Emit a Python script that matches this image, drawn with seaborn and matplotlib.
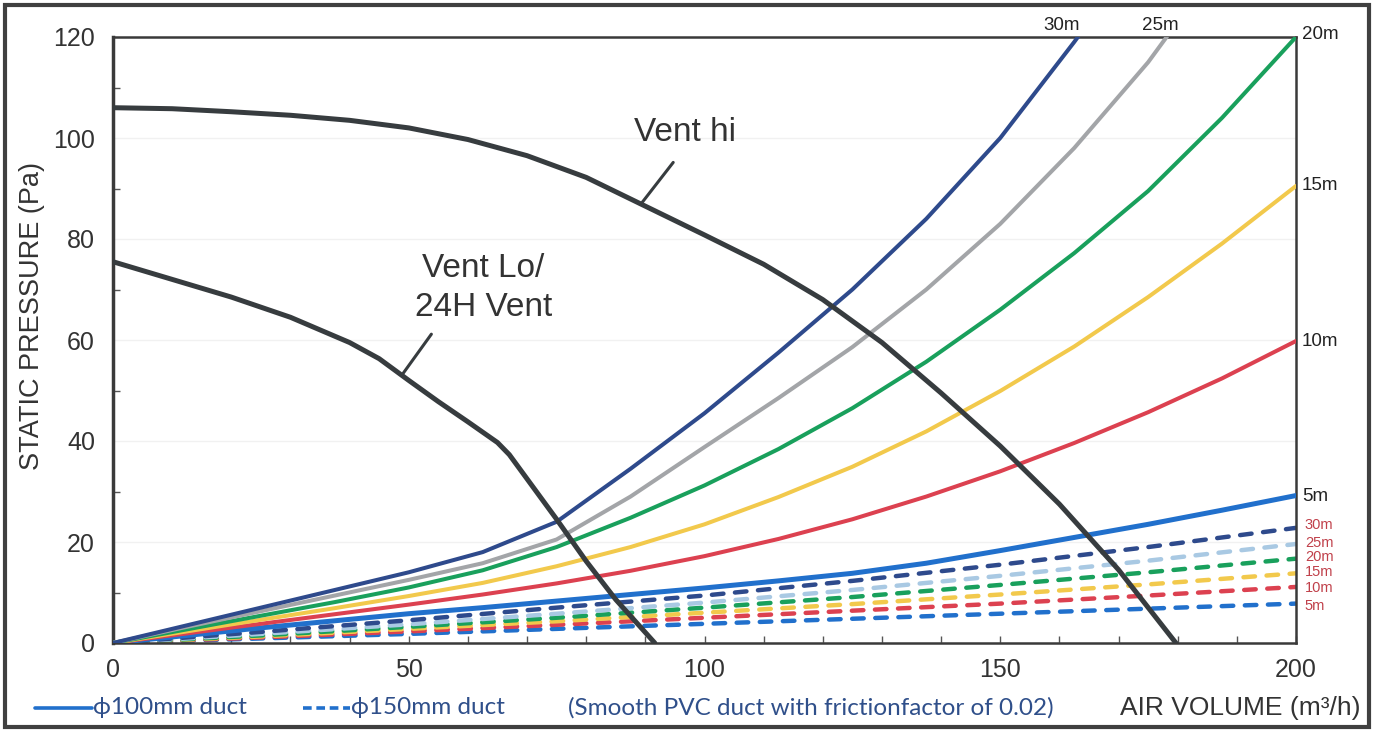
import matplotlib.pyplot as plt
import seaborn as sns
from matplotlib.lines import Line2D
from matplotlib.patches import Rectangle

# air volume (m3/h) sample points
vol = [0, 12.5, 25, 37.5, 50, 62.5, 75, 87.5, 100, 112.5, 125, 137.5, 150, 162.5, 175, 187.5, 200]
vol_25m = [0, 12.5, 25, 37.5, 50, 62.5, 75, 87.5, 100, 112.5, 125, 137.5, 150, 162.5, 175, 180]
vol_30m = [0, 12.5, 25, 37.5, 50, 62.5, 75, 87.5, 100, 112.5, 125, 137.5, 150, 162.5, 165]

# phi100mm duct, static pressure (Pa)
p100_5m = [0, 1.5, 3.0, 4.4, 5.8, 7.0, 8.3, 9.6, 10.9, 12.3, 13.8, 15.8, 18.3, 20.9, 23.5, 26.3, 29.2]
p100_10m = [0, 1.9, 3.8, 5.7, 7.6, 9.6, 11.8, 14.3, 17.2, 20.6, 24.5, 29.0, 34.0, 39.6, 45.7, 52.4, 59.8]
p100_15m = [0, 2.3, 4.6, 6.9, 9.3, 11.9, 15.2, 19.0, 23.5, 28.9, 34.9, 41.9, 49.9, 58.7, 68.5, 79.1, 90.5]
p100_20m = [0, 2.7, 5.4, 8.1, 11.0, 14.4, 19.0, 24.8, 31.2, 38.4, 46.5, 55.7, 66.0, 77.2, 89.5, 104.0, 120]
p100_25m = [0, 3.2, 6.3, 9.4, 12.5, 15.8, 20.5, 29.0, 38.8, 48.5, 58.6, 70.0, 83.0, 98.0, 115.0, 123.0]
p100_30m = [0, 3.5, 7.0, 10.5, 14.0, 18.0, 24.0, 34.5, 45.5, 57.5, 70.0, 84.0, 100.0, 119.0, 123.0]

# phi150mm duct
vol150 = [0, 25, 50, 75, 100, 125, 150, 175, 200]
p150_5m = [0, 0.9, 1.8, 2.8, 3.8, 4.8, 5.8, 6.8, 7.8]
p150_10m = [0, 1.1, 2.3, 3.6, 5.0, 6.4, 7.8, 9.4, 11.1]
p150_15m = [0, 1.3, 2.8, 4.3, 6.0, 7.7, 9.6, 11.6, 13.8]
p150_20m = [0, 1.5, 3.2, 5.0, 7.0, 9.1, 11.5, 14.0, 16.7]
p150_25m = [0, 1.8, 3.7, 5.8, 8.0, 10.5, 13.3, 16.3, 19.6]
p150_30m = [0, 2.2, 4.5, 7.0, 9.4, 12.3, 15.5, 19.0, 22.8]

# fan curves
vent_hi_x = [0, 10, 20, 30, 40, 50, 60, 70, 80, 90, 100, 110, 120, 130, 140, 150, 160, 170, 179.7]
vent_hi_y = [106, 105.8, 105.2, 104.5, 103.5, 102, 99.7, 96.5, 92.2, 86.5, 80.8, 75, 68, 59.5, 49.5, 39, 27.5, 14.5, 0]
vent_lo_x = [0, 10, 20, 30, 40, 45, 50, 55, 60, 65, 67, 70, 75, 80, 85, 91.6]
vent_lo_y = [75.5, 72, 68.5, 64.5, 59.5, 56.3, 52, 47.8, 43.8, 39.7, 37.3, 32.5, 24.5, 16.2, 8.6, 0]

lengths = ['5m', '10m', '15m', '20m', '25m', '30m']
c_navy = '#2e4a8c'
c_grey = '#a3a5a8'
c_green = '#19a05c'
c_yellow = '#f2c94c'
c_red = '#dc4150'
c_blue = '#2170cc'
c_lightblue = '#a9c9e3'
c_vent = '#373c3f'
c_text = '#333333'
c_legend = '#2f4f8a'

sns.set_theme(style="white")
plt.rcParams['font.family'] = ['Liberation Sans', 'DejaVu Sans']

fig = plt.figure(figsize=(13.76, 7.32), dpi=100)
ax = fig.add_axes([113 / 1376, 1 - 643 / 732, 1183 / 1376, 606 / 732])

ax.yaxis.grid(True, color='#f1f1f1', lw=1)

dashed = [p150_5m, p150_10m, p150_15m, p150_20m, p150_25m, p150_30m]
dashed_cols = [c_blue, c_red, c_yellow, c_green, c_lightblue, c_navy]
for ys, col in zip(dashed, dashed_cols):
    sns.lineplot(x=vol150, y=ys, ax=ax, color=col, lw=3.2, linestyle=(0, (2.6, 2.6)),
                 dash_capstyle='round', zorder=2)

solid = [
    (vol, p100_5m, c_blue, 3.6), (vol, p100_10m, c_red, 2.9), (vol, p100_15m, c_yellow, 2.9),
    (vol, p100_20m, c_green, 2.9), (vol_25m, p100_25m, c_grey, 2.9), (vol_30m, p100_30m, c_navy, 2.9),
]
for xs, ys, col, w in solid:
    sns.lineplot(x=xs, y=ys, ax=ax, color=col, lw=w, zorder=3)

sns.lineplot(x=vent_hi_x, y=vent_hi_y, ax=ax, color=c_vent, lw=3.6, zorder=4)
sns.lineplot(x=vent_lo_x, y=vent_lo_y, ax=ax, color=c_vent, lw=3.6, zorder=4)

ax.set_xlim(0, 200)
ax.set_ylim(0, 120)
ax.set_xticks([0, 50, 100, 150, 200])
ax.set_xticks(range(0, 201, 10), minor=True)
ax.set_yticks(range(0, 121, 20))
ax.set_yticks(range(0, 121, 10), minor=True)
ax.tick_params(axis='x', which='both', direction='in', length=5, width=1, color='#555555',
               bottom=True, labelsize=18, labelcolor=c_text, pad=11)
ax.tick_params(axis='y', which='major', length=0, left=True, labelsize=18, labelcolor=c_text, pad=13)
ax.tick_params(axis='y', which='minor', direction='in', length=5, width=1, color='#555555', left=True)
for s in ax.spines.values():
    s.set_color('#3a3a3a')
    s.set_linewidth(1.8)
ax.spines['left'].set_linewidth(2.5)

# fan curve labels
ax.text(96.7, 101, 'Vent hi', ha='center', va='center', fontsize=24, color=c_text)
ax.text(62.6, 70.3, 'Vent Lo/\n24H Vent', ha='center', va='center', fontsize=24,
        color=c_text, linespacing=1.3)
ax.annotate('', xy=(89.1, 86.7), xytext=(95, 95.6),
            arrowprops=dict(arrowstyle='-', color=c_vent, lw=2.2))
ax.annotate('', xy=(48.5, 52.5), xytext=(54.1, 61.6),
            arrowprops=dict(arrowstyle='-', color=c_vent, lw=2.2))

# duct length labels
ax.text(160.4, 120.6, '30m', ha='center', va='bottom', fontsize=13.5, color='#222222', clip_on=False)
ax.text(177, 120.6, '25m', ha='center', va='bottom', fontsize=13.5, color='#222222', clip_on=False)
right_y = [29.1, 59.8, 90.5, 120.4]
for lab, yy in zip(lengths[:4], right_y):
    ax.text(201, yy, lab, ha='left', va='center', fontsize=13.5, color='#222222', clip_on=False)
red_y = [7.3, 10.9, 14.1, 17.0, 19.8, 23.4]
for lab, yy in zip(lengths, red_y):
    ax.text(201.5, yy, lab, ha='left', va='center', fontsize=10.5, color='#c0404a', clip_on=False)

fig.text(32 / 1376, 1 - 316 / 732, 'STATIC PRESSURE (Pa)', rotation=90, ha='center', va='center',
         fontsize=19.5, color=c_text)

# bottom legend line
yb = 1 - 708 / 732
fig.add_artist(Line2D([35 / 1376, 92 / 1376], [yb, yb], color=c_blue, lw=2.6))
fig.add_artist(Line2D([303 / 1376, 350 / 1376], [yb, yb], color=c_blue, lw=2.6,
                      linestyle=(0, (2.4, 1.3))))
legend_font = ['Lato', 'DejaVu Sans']
fig.text(93 / 1376, yb, 'ϕ100mm duct', ha='left', va='center', fontsize=17.5,
         color=c_legend, family=legend_font)
fig.text(351 / 1376, yb, 'ϕ150mm duct', ha='left', va='center', fontsize=17.5,
         color=c_legend, family=legend_font)
fig.text(568 / 1376, yb, '(Smooth PVC duct with frictionfactor of 0.02)', ha='left', va='center',
         fontsize=17.5, color=c_legend, family=legend_font)
fig.text(1360 / 1376, yb, 'AIR VOLUME (m³/h)', ha='right', va='center', fontsize=19, color=c_text)

fig.patches.append(Rectangle((5 / 1376, 5 / 732), 1364 / 1376, 722 / 732, transform=fig.transFigure,
                             fill=False, edgecolor='#404040', lw=3))

fig.savefig('out.png', dpi=100)
